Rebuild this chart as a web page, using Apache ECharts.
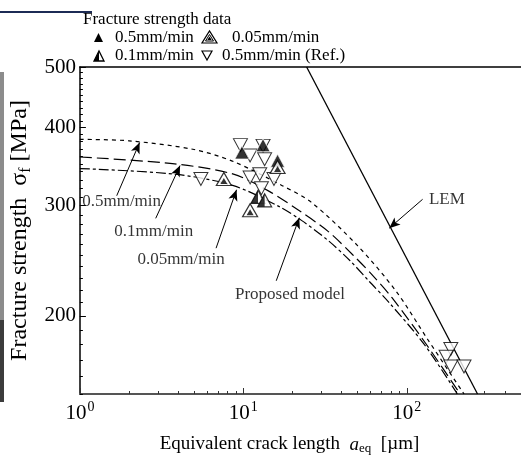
<!DOCTYPE html>
<html>
<head>
<meta charset="utf-8">
<script src="https://cdn.jsdelivr.net/npm/echarts@6/dist/echarts.min.js"></script>
<style>html,body{margin:0;padding:0;background:#fff}#c{width:521px;height:460px}</style>
</head>
<body>
<div id="c"></div>
<script>
// ---- data ----
const xLabelValues = [1, 10, 100];
const yLabelValues = [200, 300, 400, 500];
const refData = [[5.5,331],[9.6,375],[11.0,361],[13.2,374],[13.5,356],[11.0,333],[12.6,337],[15.4,331],[12.9,320],[186,177],[174,172],[186,166],[224,166]];
const r05Data = [[9.8,365],[13.2,375],[16.2,354]];
const r005Data = [[7.6,331],[16.2,346],[11.0,295]];
const r01Data = [[12.3,310],[13.5,306]];
const curve05 = [[1,383],[2,381],[5,369],[8.7,353],[17.3,323],[26,304],[50,259],[86,219],[135,183],[224,150]];
const curve01 = [[1,359],[3.8,350],[8.7,337],[14.5,316],[21.8,295],[33,273],[47,250],[62,232],[81,214],[130,181],[212,150]];
const curve005 = [[1,344],[3.8,337],[8.7,323],[16.6,299],[22.8,284],[33,264],[45,245],[59,227],[78,210],[128,180],[204,150]];
const lemData = [[24.4,500],[271,150]];

const yMinorTicks = [];
for (let v = 150; v <= 500; v += 10) yMinorTicks.push(v);
const xMinorTicks = [2,3,4,5,6,7,8,9,20,30,40,50,60,70,80,90,200,300,400,500];

const FONT = '"Liberation Serif","Times New Roman",serif';
const chart = echarts.init(document.getElementById('c'), null, {renderer:'canvas'});

const lineBase = {type:'line', showSymbol:false, symbol:'none', smooth:0.3, z:3, silent:true};
const tri = 'triangle';

const option = {
  animation:false,
  backgroundColor:'#fff',
  textStyle:{fontFamily:FONT},
  grid:{left:72, top:67, right:-4, bottom:61, containLabel:false},
  xAxis:[
    {type:'log', logBase:10, min:1, max:500, position:'bottom',
     axisLine:{show:true, lineStyle:{color:'#555', width:2}},
     axisTick:{show:true, inside:true, length:6, customValues:xLabelValues, lineStyle:{color:'#333', width:1}},
     axisLabel:{show:true, customValues:xLabelValues, margin:6,
       formatter:function(v){return '{b|10}{s|'+Math.round(Math.log10(v))+'}';},
       rich:{b:{fontSize:21, fontFamily:FONT, color:'#000'}, s:{fontSize:14, fontFamily:FONT, color:'#000', padding:[0,0,12,1]}}},
     splitLine:{show:false},
     name:'Equivalent crack length  {i|a}{sub|eq}  [µm]', nameLocation:'middle', nameGap:40,
     nameTextStyle:{fontSize:19, fontFamily:FONT, color:'#000', padding:[0,22,0,0],
       rich:{i:{fontSize:19, fontStyle:'italic', fontFamily:FONT}, sub:{fontSize:13, fontFamily:FONT, padding:[8,0,0,0]}}}},
    {type:'log', logBase:10, min:1, max:500, position:'bottom',
     axisLine:{show:false}, axisTick:{show:true, inside:true, length:3, customValues:xMinorTicks, lineStyle:{color:'#333', width:1}},
     axisLabel:{show:false}, splitLine:{show:false}},
    {type:'log', logBase:10, min:1, max:500, position:'top',
     axisLine:{show:true, lineStyle:{color:'#000', width:1.5}}, axisTick:{show:false}, axisLabel:{show:false}, splitLine:{show:false}}
  ],
  yAxis:[
    {type:'log', logBase:10, min:150, max:500, position:'left',
     axisLine:{show:true, lineStyle:{color:'#000', width:1.5}},
     axisTick:{show:true, inside:true, length:6, customValues:yLabelValues, lineStyle:{color:'#000', width:1}},
     axisLabel:{show:true, customValues:yLabelValues, margin:4, fontSize:21, fontFamily:FONT, color:'#000'},
     splitLine:{show:false},
     name:'Fracture strength  σ{sub|f} [MPa]', nameLocation:'middle', nameGap:44, nameRotate:90,
     nameTextStyle:{fontSize:24, fontFamily:FONT, color:'#000', rich:{sub:{fontSize:16, fontFamily:FONT, padding:[11,0,0,0]}}}},
    {type:'log', logBase:10, min:150, max:500, position:'left',
     axisLine:{show:false}, axisTick:{show:true, inside:true, length:3, customValues:yMinorTicks, lineStyle:{color:'#000', width:1}},
     axisLabel:{show:false}, splitLine:{show:false}}
  ],
  series:[
    Object.assign({}, lineBase, {name:'0.5mm/min model', data:curve05, lineStyle:{color:'#000', width:1.2, type:[4,4]}}),
    Object.assign({}, lineBase, {name:'0.1mm/min model', data:curve01, lineStyle:{color:'#000', width:1.2, type:[12,5]}}),
    Object.assign({}, lineBase, {name:'0.05mm/min model', data:curve005, lineStyle:{color:'#000', width:1.2, type:[10,3,3,3]}}),
    {type:'line', name:'LEM', data:lemData, showSymbol:false, symbol:'none', silent:true, z:3,
     lineStyle:{color:'#000', width:1.3},
     markLine:{silent:true, symbol:['none','arrow'], symbolSize:[7,11], label:{show:false},
       lineStyle:{color:'#000', width:1, type:'solid'},
       data:[
         [{coord:[1.68,311.3]},{coord:[2.32,378.6]}],
         [{coord:[2.91,286.4]},{coord:[4.10,347.8]}],
         [{coord:[6.81,256.6]},{coord:[9.09,318.2]}],
         [{coord:[15.9,227.6]},{coord:[22.0,287]}],
         [{coord:[125,307.2]},{coord:[78.1,276.2]}]
       ]}},
    {type:'scatter', name:'0.5mm/min (Ref.)', data:refData, symbol:tri, symbolRotate:180, symbolSize:[14,13], z:5,
     itemStyle:{color:'#fff', borderColor:'#000', borderWidth:1}},
    {type:'scatter', name:'0.5mm/min', data:r05Data, symbol:tri, symbolSize:[14,13], z:6,
     itemStyle:{color:'#000', borderColor:'#fff', borderWidth:0.8}},
    {type:'scatter', name:'0.05mm/min', data:r005Data, symbol:tri, symbolSize:[15,13], z:6,
     itemStyle:{color:'#fff', borderColor:'#000', borderWidth:1.2}},
    {type:'scatter', name:'0.05mm/min inner', data:r005Data, symbol:tri, symbolSize:[7,6], symbolOffset:[0,2], z:7,
     itemStyle:{color:'#000'}},
    {type:'scatter', name:'0.1mm/min', data:r01Data, symbol:tri, symbolSize:[14,13], z:6,
     itemStyle:{color:'#fff', borderColor:'#000', borderWidth:1.2}},
    {type:'scatter', name:'0.1mm/min half', data:r01Data, symbol:'path://M0,10 L5,0 L5,10 Z', symbolSize:[7,13], symbolOffset:[-3.5,0], z:7,
     itemStyle:{color:'#000'}},
    {type:'scatter', name:'annotations', symbolSize:1, z:8, silent:true,
     itemStyle:{color:'rgba(0,0,0,0)'},
     label:{show:true, position:'inside', formatter:'{b}', fontSize:17, fontFamily:FONT, color:'#000'},
     data:[
       {name:'0.5mm/min', value:[1.80,304.6]},
       {name:'0.1mm/min', value:[2.83,273.2]},
       {name:'0.05mm/min', value:[4.16,245.9]},
       {name:'Proposed model', value:[19.3,216.3]},
       {name:'LEM', value:[176,307.2]}
     ]}
  ],
  graphic:[
    {type:'rect', shape:{x:0,y:72,width:4,height:248}, style:{fill:'#8c8c8c'}},
    {type:'rect', shape:{x:0,y:320,width:4,height:82}, style:{fill:'#3c3c3c'}},
    {type:'rect', shape:{x:0,y:11,width:92,height:2}, style:{fill:'#1c2b55'}},
    {type:'text', left:83, top:11, style:{text:'Fracture strength data', font:'17px '+FONT, fill:'#000'}},
    // legend row 1
    {type:'polygon', shape:{points:[[94,42],[103,42],[98.5,33]]}, style:{fill:'#000'}},
    {type:'text', left:115, top:29, style:{text:'0.5mm/min', font:'17px '+FONT, fill:'#000'}},
    {type:'polygon', shape:{points:[[202,43],[217,43],[209.5,31]]}, style:{fill:'#fff', stroke:'#000', lineWidth:1.2}},
    {type:'polygon', shape:{points:[[205.5,41],[213.5,41],[209.5,34.5]]}, style:{fill:'#fff', stroke:'#000', lineWidth:1}},
    {type:'polygon', shape:{points:[[207.3,40],[211.7,40],[209.5,36.5]]}, style:{fill:'#000'}},
    {type:'text', left:232, top:29, style:{text:'0.05mm/min', font:'17px '+FONT, fill:'#000'}},
    // legend row 2
    {type:'polygon', shape:{points:[[94,61],[104,61],[99,51]]}, style:{fill:'#fff', stroke:'#000', lineWidth:1.3}},
    {type:'polygon', shape:{points:[[94,61],[99,61],[99,51]]}, style:{fill:'#000'}},
    {type:'text', left:115, top:47, style:{text:'0.1mm/min', font:'17px '+FONT, fill:'#000'}},
    {type:'polygon', shape:{points:[[202,51],[212,51],[207,60]]}, style:{fill:'#fff', stroke:'#000', lineWidth:1.2}},
    {type:'text', left:222, top:47, style:{text:'0.5mm/min (Ref.)', font:'17px '+FONT, fill:'#000'}}
  ]
};
chart.setOption(option);
</script>
</body>
</html>
